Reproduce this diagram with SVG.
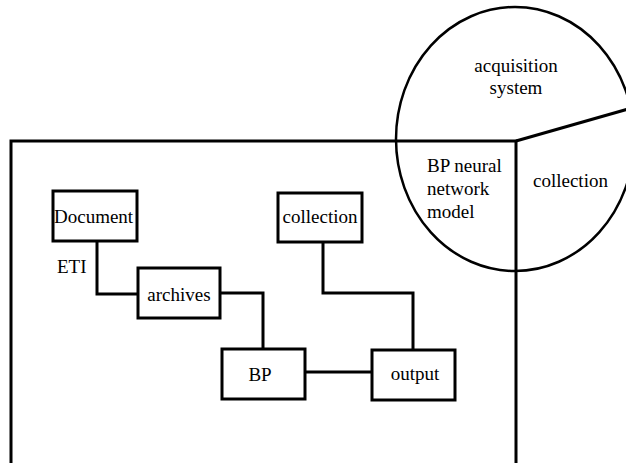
<svg xmlns="http://www.w3.org/2000/svg" width="626" height="463" viewBox="0 0 626 463">
<style>
.b{fill:#fff;stroke:#000;stroke-width:3}
.l{fill:none;stroke:#000;stroke-width:3}
.t{font-family:'Liberation Serif','Times New Roman',Times,'Noto Serif','DejaVu Serif',serif;font-size:19px;fill:#000}
</style>
<rect width="626" height="463" fill="#fff"/>
<g id="frame">
<path class="l" d="M11,470 V141 H516 V470"/>
</g>
<g id="acquisition-system">
<ellipse cx="515" cy="139" rx="119" ry="132" fill="none" stroke="#000" stroke-width="2.5"/>
<path class="l" d="M516,141 L628,109"/>
<text class="t" x="516" y="72" text-anchor="middle">acquisition</text>
<text class="t" x="516" y="94" text-anchor="middle">system</text>
<text class="t" x="427" y="172">BP neural</text>
<text class="t" x="427" y="195">network</text>
<text class="t" x="427" y="218">model</text>
<text class="t" x="533" y="187">collection</text>
</g>
<g id="connectors">
<path class="l" d="M97,241 V294 H138"/>
<path class="l" d="M220,293 H263 V349"/>
<path class="l" d="M323,242 V293 H413 V350"/>
<path class="l" d="M305,372 H372"/>
</g>
<g id="document">
<rect class="b" x="53" y="191" width="84" height="50"/>
<text class="t" x="54" y="223">Document</text>
</g>
<text id="eti" class="t" x="57" y="273">ETI</text>
<g id="archives">
<rect class="b" x="138" y="268" width="82" height="50"/>
<text class="t" x="179" y="301" text-anchor="middle">archives</text>
</g>
<g id="collection">
<rect class="b" x="278" y="193" width="84" height="49"/>
<text class="t" x="320" y="223" text-anchor="middle">collection</text>
</g>
<g id="bp">
<rect class="b" x="222" y="349" width="83" height="50"/>
<text class="t" x="260" y="381" text-anchor="middle">BP</text>
</g>
<g id="output">
<rect class="b" x="372" y="350" width="83" height="50"/>
<text class="t" x="415" y="380" text-anchor="middle">output</text>
</g>
</svg>
